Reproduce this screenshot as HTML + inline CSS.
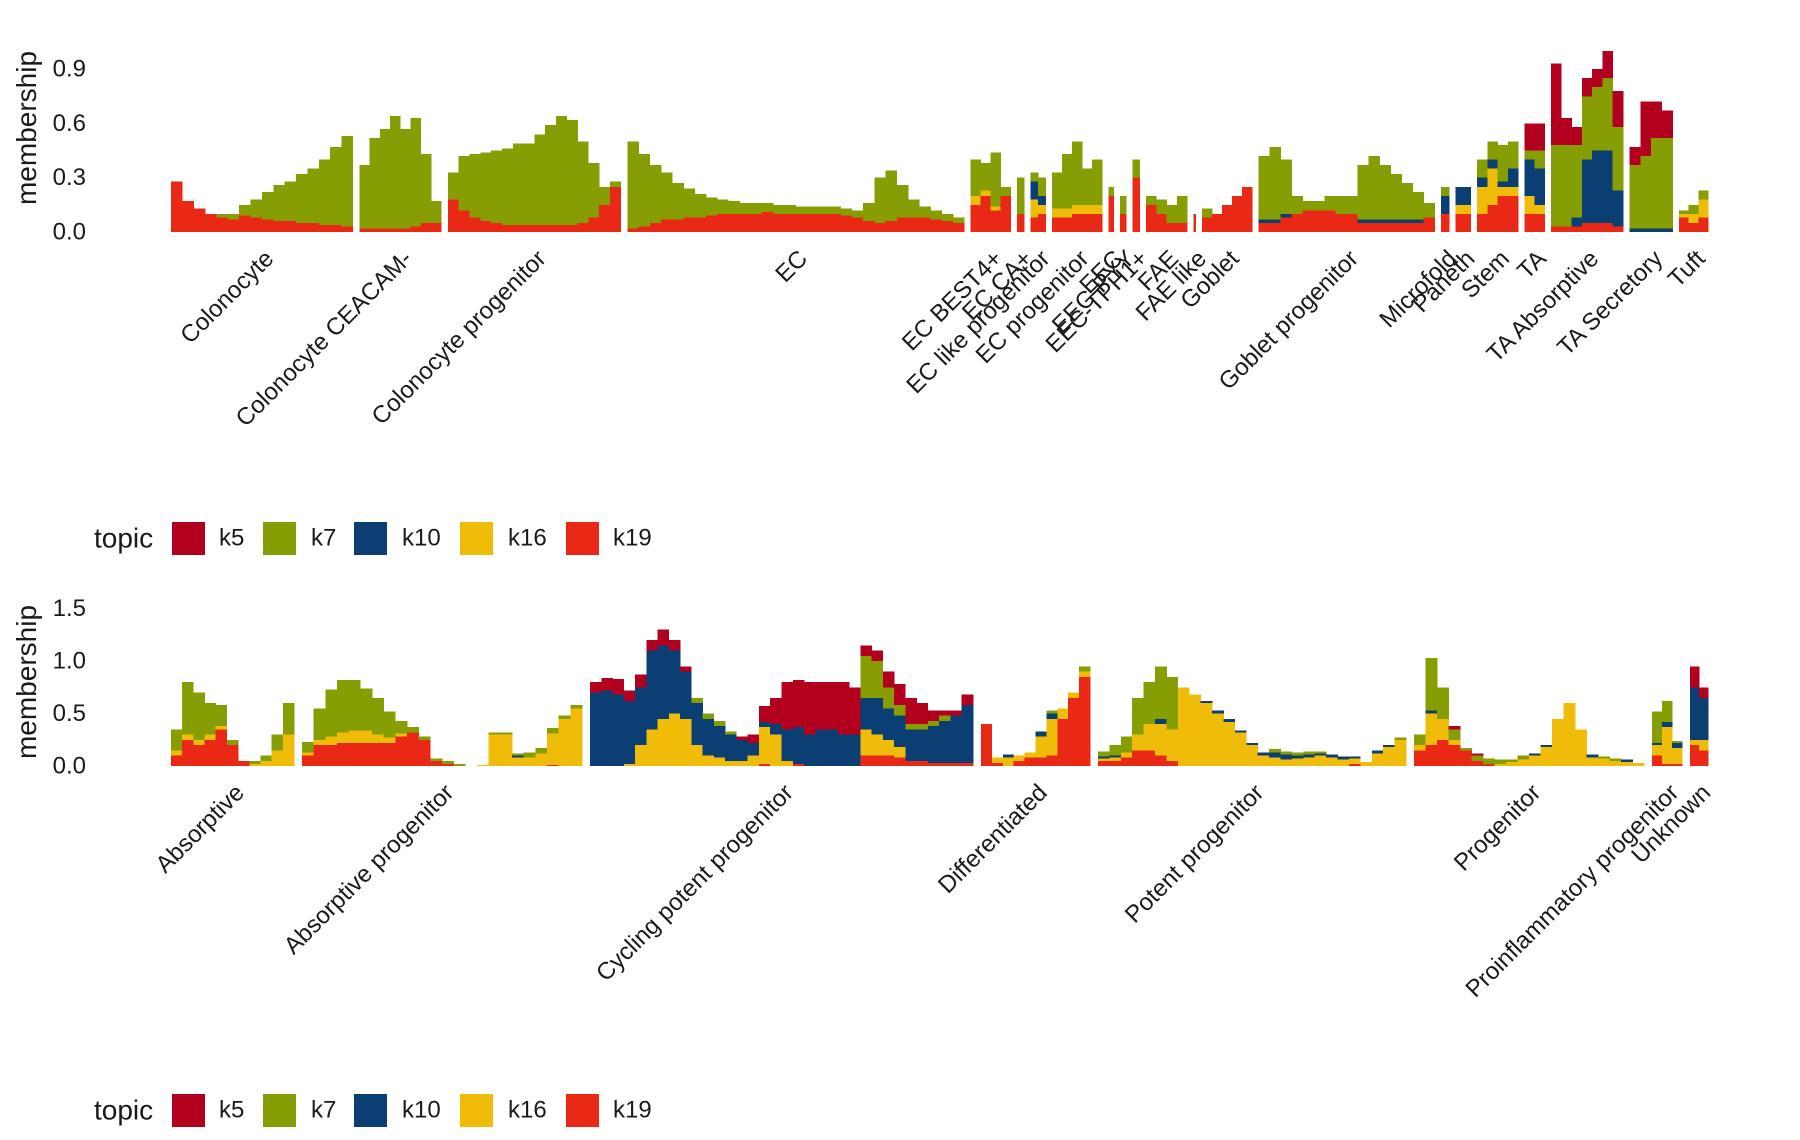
<!DOCTYPE html>
<html>
<head>
<meta charset="utf-8">
<style>
  html,body{margin:0;padding:0;background:#fff;}
  svg{display:block;font-family:"Liberation Sans",Arial,sans-serif;}
</style>
</head>
<body>
<svg id="chart" width="1800" height="1140" viewBox="0 0 1800 1140" xmlns="http://www.w3.org/2000/svg">
  <g id="top-panel"></g>
  <g id="top-legend"></g>
  <g id="bottom-panel"></g>
  <g id="bottom-legend"></g>
</svg>
<script>
// ---------- topic keys & colours ----------
const topics = ["k5","k7","k10","k16","k19"];
const topicColors = {k5:"#B3001E",k7:"#869E04",k10:"#0B3F74",k16:"#F0BC0A",k19:"#EA2816"};

// ---------- TOP panel data ----------
const topGroups = ["Colonocyte","Colonocyte CEACAM-","Colonocyte progenitor","EC","EC BEST4+","EC CA+","EC like progenitor","EC progenitor","EEC","EEC-PYY","EEC-TPH1+","FAE","FAE like","Goblet","Goblet progenitor","Microfold","Paneth","Stem","TA","TA Absorptive","TA Secretory","Tuft"];
const topCounts = [182,82,173,337,40,7,15,50,5,6,7,41,2,50,176,8,15,41,20,72,43,29];
const topTicks = [0.0,0.3,0.6,0.9];
const topTickLabels = ["0.0","0.3","0.6","0.9"];
const topK19 = [
 [.28,.17,.13,.1,.08,.07,.09,.08,.07,.06,.06,.05,.05,.04,.04,.03],
 [.02,.02,.02,.02,.02,.03,.05,.05],
 [.18,.12,.08,.06,.05,.04,.04,.04,.04,.04,.04,.04,.05,.08,.15,.25],
 [.02,.03,.05,.07,.07,.08,.08,.09,.1,.1,.1,.1,.11,.1,.1,.1,.1,.1,.1,.09,.08,.06,.05,.06,.08,.08,.08,.07,.06,.05],
 [.15,.2,.12,.2],[.1],[.08,.1],[.08,.08,.1,.1,.1],[.2],[.1],[.3],
 [.15,.1,.05,.05],[.1],[.08,.1,.15,.2,.25],
 [.05,.05,.08,.1,.12,.12,.12,.1,.1,.05,.05,.05,.05,.05,.05,.08],
 [.1],[.1,.1],[.1,.15,.2,.2],[.1,.1],[.03,.03,.03,.05,.05,.05,.03],[0,0,0,0],[.08,.05,.08]
];
const topK16 = [
 [0,0,0,0,0,0,0,0,0,0,0,0,0,0,0,0],[0,0,0,0,0,0,0,0],[0,0,0,0,0,0,0,0,0,0,0,0,0,0,0,0],
 [0,0,0,0,0,0,0,0,0,0,0,0,0,0,0,0,0,0,0,0,0,0,0,0,0,0,0,0,0,0],
 [.05,.03,.02,0],[0],[.1,.05],[.05,.05,.05,.05,.05],[0],[0],[0],
 [0,0,0,0],[0],[0,0,0,0,0],
 [0,0,0,0,0,0,0,0,0,0,0,0,0,0,0,0],
 [0],[.05,.05],[.15,.2,.05,.05],[.1,.05],[0,0,0,0,0,0,0],[0,0,0,0],[.02,.05,.1]
];
const topK10 = [
 [0,0,0,0,0,0,0,0,0,0,0,0,0,0,0,0],[0,0,0,0,0,0,0,0],[0,0,0,0,0,0,0,0,0,0,0,0,0,0,0,0],
 [0,0,0,0,0,0,0,0,0,0,0,0,0,0,0,0,0,0,0,0,0,0,0,0,0,0,0,0,0,0],
 [0,0,0,0],[0],[.1,.05],[0,0,0,0,0],[0],[0],[0],
 [0,0,0,0],[0],[0,0,0,0,0],
 [.02,.02,.02,0,0,0,0,0,0,.02,.02,.02,.02,.02,.02,0],
 [.1],[.1,.1],[.05,.05,.03,.1],[.2,.2],[0,0,.05,.35,.4,.4,.2],[.02,.02,.02,.02],[0,0,0]
];
const topK7 = [
 [0,0,0,0,.02,.03,.06,.1,.15,.2,.22,.27,.3,.36,.43,.5],
 [.35,.5,.55,.62,.55,.6,.38,.12],
 [.15,.3,.35,.38,.4,.42,.45,.45,.5,.55,.6,.58,.45,.3,.1,.03],
 [.48,.4,.32,.26,.2,.16,.13,.1,.08,.07,.06,.06,.05,.05,.05,.04,.04,.04,.04,.04,.04,.1,.25,.28,.18,.1,.06,.05,.04,.03],
 [.2,.15,.3,.05],[.2],[.05,.1],[.2,.3,.35,.2,.25],[.05],[.1],[.1],
 [.05,.08,.1,.15],[0],[.05,0,0,0,0],
 [.35,.4,.3,.1,.05,.05,.08,.1,.1,.3,.35,.3,.25,.2,.15,.08],
 [.05],[0,0],[.1,.1,.2,.15],[.05,.1],[.45,.45,.4,.35,.35,.4,.35],[.35,.4,.5,.5],[.02,.05,.05]
];
const topK5 = [
 [0,0,0,0,0,0,0,0,0,0,0,0,0,0,0,0],[0,0,0,0,0,0,0,0],[0,0,0,0,0,0,0,0,0,0,0,0,0,0,0,0],
 [0,0,0,0,0,0,0,0,0,0,0,0,0,0,0,0,0,0,0,0,0,0,0,0,0,0,0,0,0,0],
 [0,0,0,0],[0],[0,0],[0,0,0,0,0],[0],[0],[0],
 [0,0,0,0],[0],[0,0,0,0,0],
 [0,0,0,0,0,0,0,0,0,0,0,0,0,0,0,0],
 [0],[0,0],[0,0,0,0],[.15,.15],[.45,.15,.1,.1,.1,.15,.2],[.1,.3,.2,.15],[0,0,0]
];

// ---------- BOTTOM panel data ----------
const botGroups = ["Absorptive","Absorptive progenitor","Cycling potent progenitor","Differentiated","Potent progenitor","Progenitor","Proinflammatory progenitor","Unknown"];
const botCounts = [123,280,383,109,308,230,30,18];
const botTicks = [0.0,0.5,1.0,1.5];
const botTickLabels = ["0.0","0.5","1.0","1.5"];
const botK19 = [
 [.1,.25,.2,.25,.35,.2,.05,0,0,0,0],
 [.1,.2,.2,.22,.22,.22,.22,.22,.28,.32,.25,.05,.02,0,0,0,0,0,0,0,0,.01,0,0],
 [0,0,0,0,0,0,0,0,0,0,0,0,0,0,0,.02,0,0,.02,0,0,0,0,0,.1,.1,.1,.08,.05,.05,.03,.03,.03,.03],
 [.4,.03,0,.05,.08,.08,.1,.45,.65,.85],
 [.05,.05,.08,.15,.15,.1,.05,0,0,0,0,0,0,0,0,0,0,0,0,0,0,0,.02,0,0,0,0],
 [.15,.2,.25,.2,.15,.05,.02,0,0,0,0,0,0,0,0,0,0,0,0,0],
 [.1,.02,.02],
 [.2,.15]
];
const botK16 = [
 [.05,.05,.05,.05,.03,0,0,.02,.05,.15,.3],
 [.03,.05,.08,.1,.12,.12,.08,.05,.03,0,0,0,0,0,0,.01,.3,.3,.08,.08,.12,.3,.45,.55],
 [0,0,0,.02,.2,.35,.45,.5,.45,.2,.1,.08,.05,.05,.1,.35,.3,.05,0,0,0,0,0,0,.25,.2,.15,.1,0,0,0,0,0,0],
 [0,.05,.08,.05,.05,.2,.35,.1,.05,.05],
 [.02,.03,.05,.15,.25,.3,.3,.75,.68,.6,.5,.42,.32,.2,.1,.08,.06,.07,.08,.1,.08,.06,.05,.04,.12,.18,.25],
 [.05,.3,.2,.05,0,0,0,.02,.04,.06,.1,.18,.45,.6,.35,.08,.07,.05,.04,.03],
 [.1,.35,.15],
 [.05,.1]
];
const botK10 = [
 [0,0,0,0,0,0,0,0,0,0,0],
 [0,0,0,0,0,0,0,0,0,0,0,0,0,0,0,0,0,0,.02,0,0,0,0,0],
 [.7,.72,.68,.6,.55,.75,.7,.6,.45,.4,.35,.3,.25,.2,.12,.05,.1,.3,.35,.3,.35,.35,.3,.3,.3,.35,.3,.3,.3,.3,.35,.4,.45,.55],
 [0,0,.03,0,0,.05,.05,0,0,0],
 [.02,.02,0,0,0,.05,0,0,0,.02,.03,.03,.02,.02,.03,.05,.05,.03,.03,.02,.03,.03,.02,0,.03,.02,0],
 [0,.03,0,0,0,0,0,0,0,0,.02,.02,0,0,0,.03,0,0,.02,0],
 [.02,.05,.05],
 [.5,.4]
];
const botK7 = [
 [.2,.5,.45,.3,.2,.05,0,.03,.05,.15,.3],
 [.1,.3,.45,.5,.48,.4,.35,.25,.12,.05,.03,.02,.03,.02,0,0,.02,.02,.02,.05,.05,.05,.03,.03],
 [0,0,0,0,0,0,0,0,0,.05,.05,.05,.03,0,0,0,0,0,0,0,0,0,0,0,.4,.35,.2,.1,.05,.05,.05,.05,0,0],
 [0,0,0,0,0,0,.03,0,0,.05],
 [.05,.1,.15,.35,.4,.5,.5,0,0,0,0,0,0,0,0,.03,.03,.03,.03,.02,0,0,0,0,0,0,.02],
 [.1,.5,.3,.1,.02,.05,.05,.04,.02,.04,0,0,0,0,0,0,.02,.02,0,0],
 [.3,.2,.02],
 [0,0]
];
const botK5 = [
 [0,0,0,0,0,0,0,0,0,0,0],
 [0,0,0,0,0,0,0,0,0,0,0,0,0,0,0,0,0,0,0,0,0,0,0,0],
 [.1,.12,.15,.1,.12,.1,.15,.1,.05,0,0,0,0,.03,.08,.15,.25,.45,.45,.5,.45,.45,.5,.45,.1,.1,.15,.2,.25,.2,.1,.05,.05,.1],
 [0,0,0,0,0,0,0,0,0,0],
 [0,0,0,0,0,0,0,0,0,0,0,0,0,0,0,0,0,0,0,0,0,0,0,0,0,0,0],
 [0,0,0,.03,0,.02,0,0,0,0,0,0,0,0,0,0,0,0,0,0],
 [0,0,0],
 [.2,.1]
];

// ---------- drawing ----------
const NS = "http://www.w3.org/2000/svg";
function mk(tag, attrs, parent){
  const e = document.createElementNS(NS, tag);
  for (const k in attrs) e.setAttribute(k, attrs[k]);
  parent.appendChild(e);
  return e;
}

function drawPanel(root, cfg){
  const xL = 171, xR = 1708;
  const y0 = cfg.y0, ppu = cfg.ppu;
  const yScale = v => y0 - v*ppu;
  const total = cfg.counts.reduce((a,b)=>a+b,0);
  const gap = cfg.gap;
  const pxPerCell = (xR - xL - gap*(cfg.counts.length-1)) / total;
  cfg.ticks.forEach((t,i)=>{
    const tx = mk("text",{x:86,y:yScale(t),"text-anchor":"end","dominant-baseline":"central","font-size":24,fill:"#1a1a1a"},root);
    
    
    tx.textContent = cfg.tickLabels[i];
  });
  const yt = mk("text",{x:0,y:0,transform:`translate(36,${cfg.titleY}) rotate(-90)`,"text-anchor":"middle","font-size":28,fill:"#1a1a1a"},root);
  
  
  yt.textContent = "membership";
  let cum = 0;
  cfg.groups.forEach((name, g)=>{
    const gx0 = xL + cum*pxPerCell + g*gap;
    const gw = cfg.counts[g]*pxPerCell;
    cum += cfg.counts[g];
    const grp = mk("g",{},root);
    
    
    const n = cfg.k19[g].length;
    const bw = gw / n;
    for (let i=0;i<n;i++){
      const stack = [["k19",cfg.k19[g][i]],["k16",cfg.k16[g][i]],["k10",cfg.k10[g][i]],["k7",cfg.k7[g][i]],["k5",cfg.k5[g][i]]];
      let acc = 0;
      stack.forEach(([k,v])=>{
        if (!v) return;
        const yTop = yScale(acc+v), yBot = yScale(acc);
        const r = mk("rect",{x:(gx0+i*bw).toFixed(2),y:yTop.toFixed(2),width:(bw+0.3).toFixed(2),height:(yBot-yTop).toFixed(2),fill:topicColors[k],"shape-rendering":"crispEdges"},grp);
        
        
        acc += v;
      });
    }
    const cx = gx0 + gw/2;
    const lbl = mk("text",{x:0,y:0,transform:`translate(${(cx+13).toFixed(1)},${y0+28}) rotate(-45)`,"text-anchor":"end","font-size":24,fill:"#1a1a1a"},root);
    
    
    lbl.textContent = name;
  });
}

function drawLegend(root, cy){
  const t = mk("text",{x:94,y:cy,"dominant-baseline":"central","font-size":28,fill:"#1a1a1a"},root);
  
  
  t.textContent = "topic";
  const sq = [172,263,354,460,566];
  const tx = [219,311,402,508,613];
  topics.forEach((k,i)=>{
    const r = mk("rect",{x:sq[i],y:cy-16,width:33,height:33,fill:topicColors[k]},root);
    
    
    const l = mk("text",{x:tx[i],y:cy,"dominant-baseline":"central","font-size":24,fill:"#1a1a1a"},root);
    
    
    l.textContent = k;
  });
}

drawPanel(document.getElementById("top-panel"),{groups:topGroups,counts:topCounts,ticks:topTicks,tickLabels:topTickLabels,k19:topK19,k16:topK16,k10:topK10,k7:topK7,k5:topK5,y0:232,ppu:181,gap:6.5,titleY:128});
drawLegend(document.getElementById("top-legend"),538);
drawPanel(document.getElementById("bottom-panel"),{groups:botGroups,counts:botCounts,ticks:botTicks,tickLabels:botTickLabels,k19:botK19,k16:botK16,k10:botK10,k7:botK7,k5:botK5,y0:766,ppu:105,gap:8,titleY:682});
drawLegend(document.getElementById("bottom-legend"),1110);
</script>
</body>
</html>
